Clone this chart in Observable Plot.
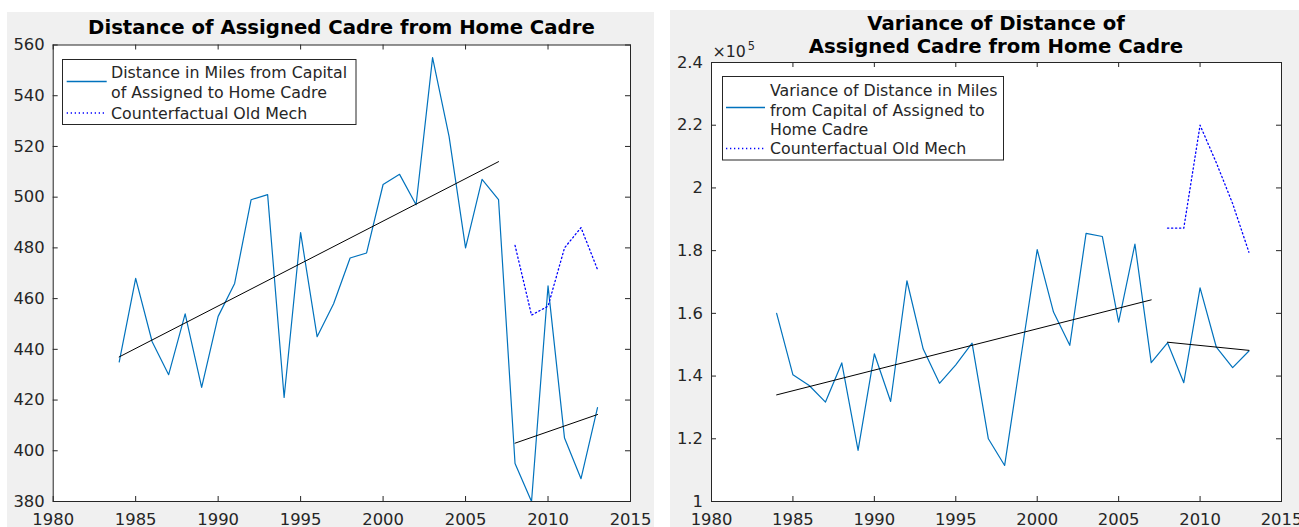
<!DOCTYPE html>
<html>
<head>
<meta charset="utf-8">
<script src="https://cdn.jsdelivr.net/npm/d3@7"></script>
<script src="https://cdn.jsdelivr.net/npm/@observablehq/plot@0.6"></script>
<style>
  html, body { margin: 0; padding: 0; background: #ffffff; }
  #root { position: relative; width: 1299px; height: 527px; overflow: hidden; font-family: "DejaVu Sans", sans-serif; }
  #left, #right { position: absolute; }
  #left { left: 7px; top: 12px; }
  #right { left: 670px; top: 10px; }
  #overlay { position: absolute; left: 0; top: 0; pointer-events: none; }
</style>
</head>
<body>
<div id="root">
  <div id="left"></div>
  <div id="right"></div>
  <svg id="overlay" width="1299" height="527" font-family="DejaVu Sans"></svg>
</div>
<script>
// ---------- data ----------
const years = [1984, 1985, 1986, 1987, 1988, 1989, 1990, 1991, 1992, 1993, 1994, 1995, 1996, 1997, 1998, 1999,
               2000, 2001, 2002, 2003, 2004, 2005, 2006, 2007, 2008, 2009, 2010, 2011, 2012, 2013];
const distance = [435, 468, 443, 430, 454, 425, 453, 466, 499, 501, 421, 486, 445, 458, 476, 478,
                  505, 509, 497, 555, 524, 480, 507, 499, 395, 380, 465, 405, 389, 417];
const counterYears = [2008, 2009, 2010, 2011, 2012, 2013];
const counterDistance = [481, 453.5, 457, 480, 488, 471.5];
const trendYearsA = [1984, 2007];
const trendDistanceA = [437, 514];
const trendYearsB = [2008, 2013];
const trendDistanceB = [403, 414.3];

const variance = [160000, 140400, 137000, 131700, 144200, 116300, 147100, 131900, 170400, 148600, 137700, 143600, 150500, 120000, 111500, 146000,
                  180300, 160400, 149800, 185500, 184500, 157200, 182100, 144300, 150600, 137900, 168100, 149200, 142700, 148000];
const counterVariance = [187200, 187200, 220000, 208000, 195000, 179500];
const trendVarianceA = [134000, 164300];
const trendVarianceB = [150800, 148200];

const xTicks = [1980, 1985, 1990, 1995, 2000, 2005, 2010, 2015];
const leftYTicks = [380, 400, 420, 440, 460, 480, 500, 520, 540, 560];
const rightYTicks = [100000, 120000, 140000, 160000, 180000, 200000, 220000, 240000];

const leftTitle = "Distance of Assigned Cadre from Home Cadre";
const rightTitle = ["Variance of Distance of", "Assigned Cadre from Home Cadre"];
const leftLegend = ["Distance in Miles from Capital", "of Assigned to Home Cadre", "Counterfactual Old Mech"];
const rightLegend = ["Variance of Distance in Miles", "from Capital of Assigned to", "Home Cadre", "Counterfactual Old Mech"];

// ---------- styles ----------
const AXIS = "#262626";
const BLUE = "#0072BD";
const DOT = "#0000FF";
const TICK = 5;

const toRows = (xs, ys) => xs.map((x, i) => ({x, y: ys[i]}));

function panel({width, height, marginLeft, marginRight, marginTop, marginBottom, yDomain, yTicks, yFormat, series}) {
  const innerW = width - marginLeft - marginRight;
  const innerH = height - marginTop - marginBottom;
  return Plot.plot({
    width, height, marginLeft, marginRight, marginTop, marginBottom,
    style: {background: "#f0f0f0", fontFamily: "DejaVu Sans", fontSize: "16.4px", color: AXIS, overflow: "visible"},
    x: {domain: [1980, 2015], label: null},
    y: {domain: yDomain, label: null},
    marks: [
      Plot.frame({fill: "white"}),
      Plot.ruleX(xTicks, {x: d => d, insetTop: innerH - TICK, stroke: AXIS}),
      Plot.ruleX(xTicks, {x: d => d, insetBottom: innerH - TICK, stroke: AXIS}),
      Plot.ruleY(yTicks, {y: d => d, insetRight: innerW - TICK, stroke: AXIS}),
      Plot.ruleY(yTicks, {y: d => d, insetLeft: innerW - TICK, stroke: AXIS}),
      Plot.line(series.main, {x: "x", y: "y", stroke: BLUE, strokeWidth: 1.2}),
      Plot.line(series.counter, {x: "x", y: "y", stroke: DOT, strokeWidth: 1.3, strokeDasharray: "1.3 2.7"}),
      Plot.line(series.trendA, {x: "x", y: "y", stroke: "#000", strokeWidth: 1}),
      Plot.line(series.trendB, {x: "x", y: "y", stroke: "#000", strokeWidth: 1}),
      Plot.frame({stroke: AXIS, strokeWidth: 1}),
      Plot.axisX({ticks: xTicks, tickSize: 0, tickPadding: 12, tickFormat: d => String(d), label: null}),
      Plot.axisY({ticks: yTicks, tickSize: 0, tickPadding: 8.5, tickFormat: yFormat, label: null})
    ]
  });
}

const leftPlot = panel({
  width: 647, height: 515, marginLeft: 45.7, marginRight: 24, marginTop: 32.5, marginBottom: 26,
  yDomain: [380, 560], yTicks: leftYTicks, yFormat: d => String(d),
  series: {
    main: toRows(years, distance),
    counter: toRows(counterYears, counterDistance),
    trendA: toRows(trendYearsA, trendDistanceA),
    trendB: toRows(trendYearsB, trendDistanceB)
  }
});
document.getElementById("left").appendChild(leftPlot);

const rightPlot = panel({
  width: 629, height: 517, marginLeft: 41, marginRight: 18, marginTop: 52, marginBottom: 26,
  yDomain: [100000, 240000], yTicks: rightYTicks, yFormat: d => String(+(d / 1e5).toFixed(1)),
  series: {
    main: toRows(years, variance),
    counter: toRows(counterYears, counterVariance),
    trendA: toRows(trendYearsA, trendVarianceA),
    trendB: toRows(trendYearsB, trendVarianceB)
  }
});
document.getElementById("right").appendChild(rightPlot);

// ---------- titles, exponent, legends ----------
const ov = d3.select("#overlay");

ov.append("text").attr("x", 341.4).attr("y", 34.3).attr("text-anchor", "middle")
  .attr("font-weight", "bold").attr("font-size", 19.7).attr("fill", "#000").text(leftTitle);
rightTitle.forEach((t, i) => {
  ov.append("text").attr("x", 996).attr("y", 30 + i * 23.3).attr("text-anchor", "middle")
    .attr("font-weight", "bold").attr("font-size", 19.7).attr("fill", "#000").text(t);
});

const ex = ov.append("text").attr("x", 712.5).attr("y", 57.3).attr("font-size", 15.8).attr("fill", AXIS);
ex.append("tspan").text("×10");
ex.append("tspan").attr("font-size", 11.4).attr("dx", 2).attr("dy", -7.3).text("5");

function legend({x, y, w, h, textX, baselines, lines, solidY, dotY, sx1, sx2}) {
  const g = ov.append("g");
  g.append("rect").attr("x", x).attr("y", y).attr("width", w).attr("height", h)
    .attr("fill", "white").attr("stroke", AXIS).attr("stroke-width", 1);
  g.append("line").attr("x1", sx1).attr("x2", sx2).attr("y1", solidY).attr("y2", solidY)
    .attr("stroke", BLUE).attr("stroke-width", 1.3);
  g.append("line").attr("x1", sx1).attr("x2", sx2).attr("y1", dotY).attr("y2", dotY)
    .attr("stroke", DOT).attr("stroke-width", 1.3).attr("stroke-dasharray", "1.3 2.7");
  lines.forEach((t, i) => {
    g.append("text").attr("x", textX).attr("y", baselines[i]).attr("font-size", 15.8)
      .attr("fill", AXIS).text(t);
  });
}

legend({x: 62.5, y: 59.5, w: 293.5, h: 65, textX: 111, baselines: [77.5, 97.5, 118.5],
        lines: leftLegend, solidY: 81.5, dotY: 113, sx1: 66.7, sx2: 106.7});
legend({x: 722.5, y: 76.5, w: 281, h: 83.5, textX: 770, baselines: [96, 115.5, 135, 154],
        lines: rightLegend, solidY: 107.5, dotY: 148.5, sx1: 726, sx2: 765});
</script>
</body>
</html>
